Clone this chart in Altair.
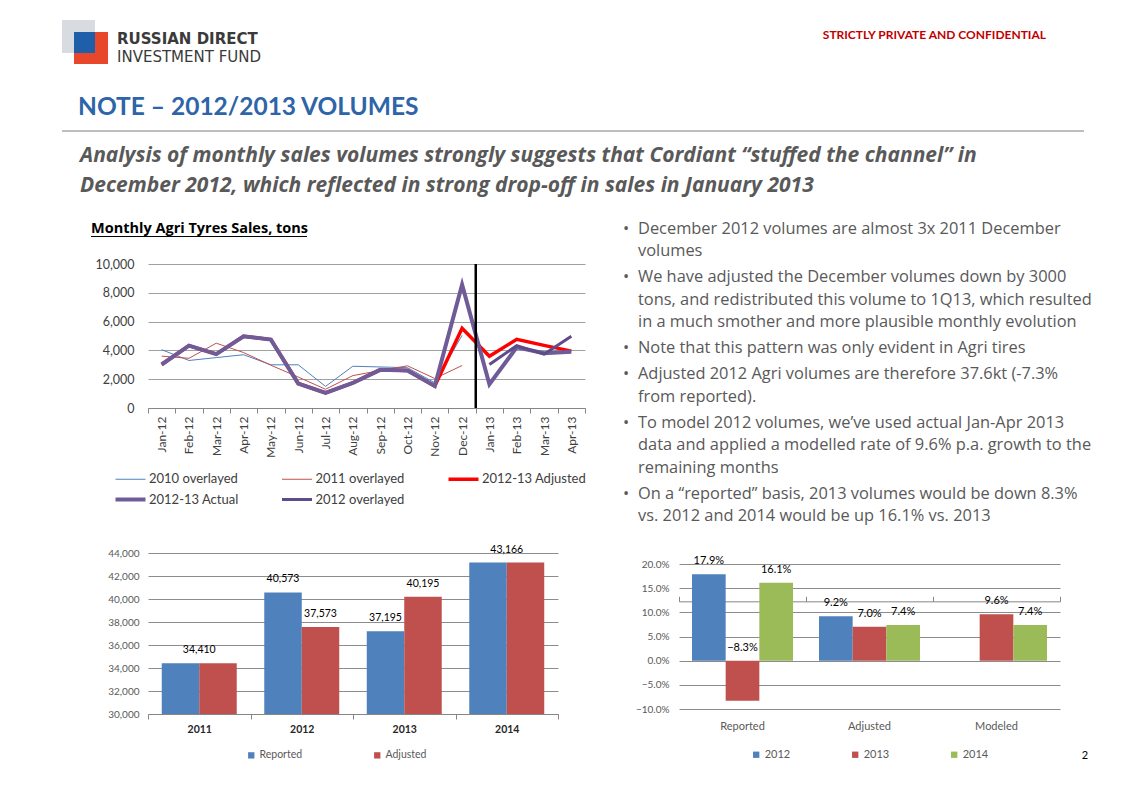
import altair as alt
import pandas as pd

FONT = "Lato"
FONT2 = "Open Sans"
GRAY = "#595959"
AXIS_GRAY = "#868686"

# ---------------- data ----------------
months = ["Jan-12", "Feb-12", "Mar-12", "Apr-12", "May-12", "Jun-12", "Jul-12", "Aug-12",
          "Sep-12", "Oct-12", "Nov-12", "Dec-12", "Jan-13", "Feb-13", "Mar-13", "Apr-13"]
s2010 = [4050, 3300, 3500, 3700, 3000, 3000, 1500, 2900, 2850, 2800, 1750, 5050,
         None, None, None, None]
s2011 = [3600, 3450, 4500, 3850, 2970, 2150, 1300, 2250, 2600, 2930, 2050, 2950,
         None, None, None, None]
s_adjusted = [3020, 4330, 3740, 4980, 4750, 1700, 1050, 1740, 2650, 2600, 1530, 5530,
              3600, 4770, 4350, 3950]
s_actual = [3020, 4330, 3740, 4980, 4750, 1700, 1050, 1740, 2650, 2600, 1530, 8560,
            1650, 4220, 3800, 3900]
s2012_overlay = [None, None, None, None, None, None, None, None, None, None, None, None,
                 3020, 4330, 3740, 4980]
series_names = ["2010 overlayed", "2011 overlayed", "2012-13 Adjusted", "2012-13 Actual", "2012 overlayed"]
series_values = [s2010, s2011, s_adjusted, s_actual, s2012_overlay]
series_colors = ["#4F81BD", "#C0504D", "#FF0000", "#6E5B98", "#5E4C8A"]
series_widths = [1, 1, 3.5, 4, 3]
# legend fills its grid column by column; this order gives the two rows of the reference
legend_order = ["2010 overlayed", "2012-13 Actual", "2011 overlayed", "2012 overlayed", "2012-13 Adjusted"]

years = ["2011", "2012", "2013", "2014"]
vol_reported = [34410, 40573, 37195, 43166]
vol_adjusted = [34410, 37573, 40195, 43166]
vol_series = ["Reported", "Adjusted"]

growth_cats = ["Reported", "Adjusted", "Modeled"]
growth_years = ["2012", "2013", "2014"]
g2012 = [0.179, 0.092, None]
g2013 = [-0.083, 0.070, 0.096]
g2014 = [0.161, 0.074, 0.074]

BLUE, RED, GREEN = "#4F81BD", "#C0504D", "#9BBB59"

header_logo_1 = "RUSSIAN DIRECT"
header_logo_2 = "INVESTMENT FUND"
header_conf = "STRICTLY PRIVATE AND CONFIDENTIAL"
title_text = "NOTE – 2012/2013 VOLUMES"
subtitle_lines = [
    "Analysis of monthly sales volumes strongly suggests that Cordiant “stuffed the channel” in",
    "December 2012, which reflected in strong drop-off in sales in January 2013",
]
chart1_title = "Monthly Agri Tyres Sales, tons"
bullets = [
    ["December 2012 volumes are almost 3x 2011 December", "volumes"],
    ["We have adjusted the December volumes down by 3000",
     "tons, and redistributed this volume to 1Q13, which resulted",
     "in a much smother and more plausible monthly evolution"],
    ["Note that this pattern was only evident in  Agri tires"],
    ["Adjusted 2012 Agri volumes are therefore 37.6kt (-7.3%", "from reported)."],
    ["To model 2012 volumes, we’ve used actual Jan-Apr 2013",
     "data and applied a modelled rate of 9.6% p.a. growth to the",
     "remaining months"],
    ["On a “reported” basis, 2013 volumes would be down 8.3%",
     "vs. 2012 and 2014 would be up 16.1% vs. 2013"],
]
page_number = "2"

# ---------------- helpers (page coords -> chart-relative coords) ----------------
def txt(s, px, py, origin, size, color, weight="normal", style="normal",
        align="left", baseline="alphabetic", font=FONT):
    ox, oy = origin
    return alt.Chart(pd.DataFrame({"t": [s]})).mark_text(
        align=align, baseline=baseline, fontSize=size, font=font,
        fontWeight=weight, fontStyle=style, color=color
    ).encode(text="t:N", x=alt.value(px - ox), y=alt.value(py - oy))


def rect(px1, px2, py1, py2, origin, color, opacity=1.0):
    ox, oy = origin
    return alt.Chart(pd.DataFrame({"k": [0]})).mark_rect(color=color, opacity=opacity).encode(
        x=alt.value(px1 - ox), x2=alt.value(px2 - ox),
        y=alt.value(py1 - oy), y2=alt.value(py2 - oy))


def hrule(px1, px2, py, origin, color, width=1.0):
    ox, oy = origin
    return alt.Chart(pd.DataFrame({"k": [0]})).mark_rule(color=color, strokeWidth=width).encode(
        x=alt.value(px1 - ox), x2=alt.value(px2 - ox), y=alt.value(py - oy))


# ---------------- line chart ----------------
LO = (148, 264)
rows = []
for name, vals in zip(series_names, series_values):
    for m, v in zip(months, vals):
        if v is not None:
            rows.append({"month": m, "series": name, "value": v})
df_line = pd.DataFrame(rows)

x_scale_line = alt.Scale(type="band", domain=months, paddingInner=0, paddingOuter=0)
x_axis_line = alt.Axis(labelAngle=-90, labelFontSize=12, labelColor="#404040", labelPadding=3,
                       tickBand="extent", ticks=True, tickSize=5, tickColor=AXIS_GRAY,
                       domainColor=AXIS_GRAY, grid=False, title=None)
y_scale_line = alt.Scale(domain=[0, 10000], nice=False)
y_axis_line = alt.Axis(values=[0, 2000, 4000, 6000, 8000, 10000], format=",.0f",
                       labelFontSize=12.5, labelColor="#404040", labelPadding=14,
                       ticks=False, domain=False, gridColor="#A0A0A0", title=None)
y_line = alt.Y("value:Q", title=None, scale=y_scale_line, axis=y_axis_line)

color_of = dict(zip(series_names, series_colors))
width_expr = "".join(f"datum.value === '{n}' ? {w} : " for n, w in zip(series_names, series_widths)) + "1"
line_legend = alt.Legend(title=None, orient="none", legendX=-34, legendY=208, columns=3,
                         symbolType="stroke", symbolSize=900, labelFontSize=13,
                         labelColor="#404040", columnPadding=20.5, rowPadding=4,
                         gridAlign="all", labelLimit=300, labelOffset=12, symbolOffset=10,
                         symbolStrokeWidth={"expr": width_expr})
color_line = alt.Color("series:N",
                       scale=alt.Scale(domain=legend_order, range=[color_of[n] for n in legend_order]),
                       legend=line_legend)

line_layers = []
for name, w in zip(series_names, series_widths):
    line_layers.append(
        alt.Chart(df_line).transform_filter(alt.datum.series == name).mark_line(strokeWidth=w).encode(
            x=alt.X("month:N", sort=months, scale=x_scale_line, axis=x_axis_line),
            y=y_line, color=color_line)
    )

boundary_df = pd.DataFrame({"month": ["Jan-13"], "value": [10000], "value0": [0]})
boundary = alt.Chart(boundary_df).mark_rule(color="black", strokeWidth=2.5).encode(
    x=alt.X("month:N", sort=months, scale=x_scale_line, axis=x_axis_line, bandPosition=0),
    y=y_line, y2="value0:Q")

header = [
    rect(8, 1114, 8, 786, LO, "white", opacity=0),  # page anchor
    rect(62, 95, 20, 53, LO, "#D8DBE0"),
    rect(74, 108, 32, 64, LO, "#E9472B"),
    rect(74, 95, 32, 53, LO, "#1F5EA8"),
    txt(header_logo_1, 117, 44.3, LO, 15, "#3A3A3A", weight="bold", font="DejaVu Sans"),
    txt(header_logo_2, 117, 61.7, LO, 15, "#3A3A3A", font="DejaVu Sans"),
    txt(header_conf, 1046, 39, LO, 12, "#C00000", weight="bold", align="right"),
    txt(title_text, 78, 115, LO, 24.5, "#2E64A8", weight="bold"),
    hrule(62, 1084, 131, LO, "#7F7F7F", 1),
    txt(subtitle_lines[0], 80, 161.7, LO, 21, GRAY, weight="bold", style="italic", font=FONT2),
    txt(subtitle_lines[1], 80, 192.3, LO, 21, GRAY, weight="bold", style="italic", font=FONT2),
    txt(chart1_title, 91, 233.3, LO, 14.5, "black", weight="bold", font=FONT2),
    hrule(91, 307, 236.5, LO, "black", 1),
]

line_chart = alt.layer(*header, *line_layers, boundary).properties(width=437, height=144)

# ---------------- bullets ----------------
BO = (679, 264)
bullet_layers = []
yy = 228.5
first = True
for b in bullets:
    if not first:
        yy += 25.9
    first = False
    bullet_layers.append(txt("•", 623, yy, BO, 16.4, GRAY, baseline="middle", font=FONT2))
    for j, line in enumerate(b):
        if j > 0:
            yy += 22.6
        bullet_layers.append(txt(line, 638, yy, BO, 16.4, GRAY, baseline="middle", font=FONT2))
bullet_chart = alt.layer(*bullet_layers).properties(width=381, height=144)

# ---------------- volumes bar chart ----------------
rows = []
for i, y in enumerate(years):
    rows.append({"year": y, "series": "Reported", "value": vol_reported[i]})
    rows.append({"year": y, "series": "Adjusted", "value": vol_adjusted[i]})
df_b1 = pd.DataFrame(rows)
same = {y: vol_reported[i] == vol_adjusted[i] for i, y in enumerate(years)}
df_b1["single"] = df_b1["year"].map(same)

x_b1 = alt.X("year:N", sort=years, title=None,
             scale=alt.Scale(domain=years, paddingInner=0, paddingOuter=0),
             axis=alt.Axis(labelAngle=0, labelFontSize=10.5, labelFontWeight="bold",
                           labelColor="#262626", tickBand="extent", tickSize=5,
                           tickColor=AXIS_GRAY, domainColor=AXIS_GRAY, labelPadding=5,
                           grid=False, title=None))
xo_b1 = alt.XOffset("series:N", scale=alt.Scale(domain=vol_series, paddingInner=0, paddingOuter=0.367))
y_b1 = alt.Y("value:Q", title=None,
             scale=alt.Scale(domain=[30000, 44000], zero=False, nice=False),
             axis=alt.Axis(values=list(range(30000, 44001, 2000)), format=",.0f", labelFontSize=10,
                           labelColor=GRAY, labelPadding=9, ticks=False, domain=False,
                           gridColor="#8C8C8C", title=None))
color_b1 = alt.Color("series:N", scale=alt.Scale(domain=vol_series, range=[BLUE, RED]),
                     legend=alt.Legend(title=None, orient="none", legendX=98, legendY=197,
                                       direction="horizontal", symbolType="square",
                                       symbolSize=40, labelFontSize=10.5, labelColor=GRAY,
                                       columnPadding=69, labelOffset=3))
bars1 = alt.Chart(df_b1).mark_bar(clip=True).encode(x=x_b1, xOffset=xo_b1, y=y_b1, color=color_b1)
lab1_pair = alt.Chart(df_b1).transform_filter("!datum.single").mark_text(
    baseline="bottom", dy=-8, fontSize=10.5, font=FONT, color="black").encode(
    x=x_b1, xOffset=xo_b1, y=y_b1, text=alt.Text("value:Q", format=",.0f"))
lab1_single = alt.Chart(df_b1).transform_filter("datum.single && datum.series == 'Reported'").mark_text(
    baseline="bottom", dy=-8, fontSize=10.5, font=FONT, color="black").encode(
    x=x_b1, y=y_b1, text=alt.Text("value:Q", format=",.0f"))
bar1_chart = alt.layer(bars1, lab1_pair, lab1_single).properties(width=410, height=161)

# ---------------- growth bar chart ----------------
B2 = (679, 553)
rows = []
for i, c in enumerate(growth_cats):
    for yname, vals in zip(growth_years, [g2012, g2013, g2014]):
        if vals[i] is not None:
            rows.append({"cat": c, "yr": yname, "value": vals[i]})
df_b2 = pd.DataFrame(rows)
df_b2["labelpos"] = df_b2["value"].clip(lower=0)

x_scale_b2 = alt.Scale(domain=growth_cats, paddingInner=0, paddingOuter=0)
x_b2 = alt.X("cat:N", sort=growth_cats, title=None, scale=x_scale_b2,
             axis=alt.Axis(labelAngle=0, labelFontSize=11, labelColor=GRAY, ticks=False,
                           domain=False, labelPadding=11, grid=False, title=None))
x_b2_zero = alt.X("cat:N", sort=growth_cats, title=None, scale=x_scale_b2,
                  axis=alt.Axis(labels=False, ticks=True, tickBand="extent", tickSize=5,
                                tickColor=AXIS_GRAY, domainColor=AXIS_GRAY, domain=True,
                                offset=-48.33, grid=False, title=None))
xo_b2 = alt.XOffset("yr:N", scale=alt.Scale(domain=growth_years, paddingInner=0, paddingOuter=0.386))
# top of the scale sits a little above 20% so that this panel starts lower than the left one
y_scale_b2 = alt.Scale(domain=[-0.10, 0.22276], nice=False, zero=False)
y_axis_b2 = alt.Axis(values=[-0.10, -0.05, 0.0, 0.05, 0.10, 0.15, 0.20], format=".1%",
                     labelFontSize=10, labelColor=GRAY, labelPadding=10, ticks=False,
                     domain=False, gridColor="#8C8C8C", title=None)
color_b2 = alt.Color("yr:N", scale=alt.Scale(domain=growth_years, range=[BLUE, RED, GREEN]),
                     legend=alt.Legend(title=None, orient="none", legendX=71.7, legendY=196,
                                       direction="horizontal", symbolType="square",
                                       symbolSize=40, labelFontSize=11, labelColor=GRAY,
                                       columnPadding=59, labelOffset=3))
bars2 = alt.Chart(df_b2).mark_bar().encode(
    x=x_b2, xOffset=xo_b2, y=alt.Y("value:Q", scale=y_scale_b2, axis=y_axis_b2, title=None),
    y2=alt.datum(0), color=color_b2)
lab2 = alt.Chart(df_b2).mark_text(baseline="bottom", dy=-8, fontSize=11, font=FONT, color="black").encode(
    x=x_b2_zero, xOffset=xo_b2,
    y=alt.Y("labelpos:Q", scale=y_scale_b2, axis=y_axis_b2, title=None),
    text=alt.Text("value:Q", format=".1%"))
pnum = txt(page_number, 1085, 756, B2, 11, "black", align="center", baseline="middle")
bar2_chart = alt.layer(bars2, lab2, pnum).resolve_axis(x="independent").properties(width=381, height=156)

# ---------------- compose ----------------
chart = alt.concat(
    line_chart, bullet_chart, bar1_chart, bar2_chart,
    columns=2, spacing={"row": 145, "column": 94}, bounds="flush", align="none"
).resolve_scale(
    color="independent", xOffset="independent"
).properties(padding=0, background="white").configure_view(stroke=None).configure_axis(
    labelFont=FONT, titleFont=FONT
).configure_legend(labelFont=FONT)

chart.save("out.html", embed_options={"renderer": "svg", "actions": False})
